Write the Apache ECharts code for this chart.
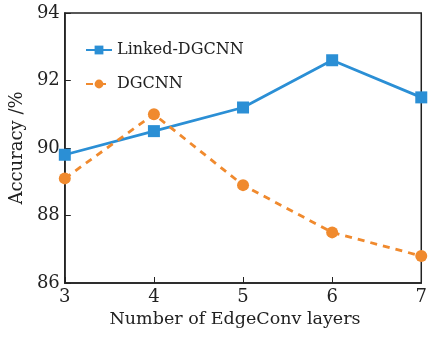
<!DOCTYPE html>
<html><head><meta charset="utf-8">
<script src="https://cdn.jsdelivr.net/npm/echarts@6/dist/echarts.min.js"></script>
<style>html,body{margin:0;padding:0;background:#fff}#c{width:430px;height:337px}</style>
</head><body><div id="c"></div>
<script>
var layers = [3, 4, 5, 6, 7];
var linkedDGCNN = [89.8, 90.5, 91.2, 92.6, 91.5];
var dgcnn = [89.1, 91.0, 88.9, 87.5, 86.8];
var yTicks = [86, 88, 90, 92, 94];

var font = '"DejaVu Serif", "Liberation Serif", serif';
var chart = echarts.init(document.getElementById('c'));
chart.setOption({
  animation: false,
  grid: {left: 62, right: 6, top: 13, bottom: 54, show: true, borderColor: '#222', borderWidth: 1.5, backgroundColor: 'transparent'},
  legend: {
    left: 80, top: 37, orient: 'vertical', itemGap: 18, itemWidth: 26, itemHeight: 11,
    textStyle: {fontFamily: font, fontSize: 16, color: '#222'},
    data: ['Linked-DGCNN', 'DGCNN']
  },
  xAxis: {
    type: 'value', min: layers[0], max: layers[layers.length - 1], interval: 1,
    name: 'Number of EdgeConv layers', nameLocation: 'middle', nameGap: 27,
    nameTextStyle: {fontFamily: font, fontSize: 17.5, color: '#222', padding: [0, 16, 0, 0]},
    axisLine: {lineStyle: {color: '#222', width: 1.5}},
    axisTick: {inside: true, length: 6, lineStyle: {color: '#222'}},
    axisLabel: {fontFamily: font, fontSize: 18, color: '#222', margin: 5},
    splitLine: {show: false}
  },
  yAxis: {
    type: 'value', min: yTicks[0], max: yTicks[yTicks.length - 1], interval: 2,
    name: 'Accuracy /%', nameLocation: 'middle', nameGap: 34,
    nameTextStyle: {fontFamily: font, fontSize: 18, color: '#222'},
    axisLine: {show: true, lineStyle: {color: '#222', width: 1.5}},
    axisTick: {show: true, inside: true, length: 6, lineStyle: {color: '#222'}},
    axisLabel: {fontFamily: font, fontSize: 18, color: '#222', margin: 5},
    splitLine: {show: false}
  },
  series: [
    {
      name: 'Linked-DGCNN', type: 'line',
      data: layers.map(function (x, i) { return [x, linkedDGCNN[i]]; }),
      symbol: 'rect', symbolSize: 12,
      lineStyle: {color: '#2b8fd5', width: 2.8},
      itemStyle: {color: '#2b8fd5'}
    },
    {
      name: 'DGCNN', type: 'line',
      data: layers.map(function (x, i) { return [x, dgcnn[i]]; }),
      symbol: 'circle', symbolSize: 12,
      lineStyle: {color: '#f08a2e', width: 2.8, type: [7, 6]},
      itemStyle: {color: '#f08a2e'}
    }
  ]
});
</script></body></html>
